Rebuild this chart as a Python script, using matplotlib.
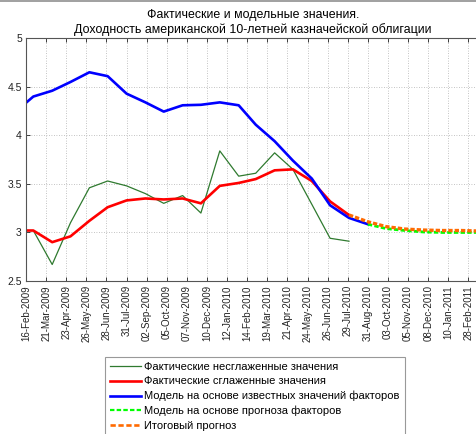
import numpy as np
import matplotlib
matplotlib.use("Agg")
import matplotlib.pyplot as plt
from matplotlib.lines import Line2D

plt.rcParams['font.family'] = ['Liberation Sans', 'DejaVu Sans']

# ---- data ----
month_dates = ['2009-01-31', '2009-02-28', '2009-03-31', '2009-04-30', '2009-05-31', '2009-06-30',
               '2009-07-31', '2009-08-31', '2009-09-30', '2009-10-31', '2009-11-30', '2009-12-31',
               '2010-01-31', '2010-02-28', '2010-03-31', '2010-04-30', '2010-05-31', '2010-06-30',
               '2010-07-31']
actual_raw = [3.02, 3.02, 2.67, 3.10, 3.46, 3.53, 3.48, 3.40, 3.30, 3.38, 3.20, 3.84,
              3.58, 3.61, 3.82, 3.65, 3.29, 2.94, 2.91]
actual_smooth = [3.02, 3.02, 2.90, 2.96, 3.12, 3.26, 3.33, 3.35, 3.34, 3.35, 3.30, 3.48,
                 3.51, 3.55, 3.64, 3.65, 3.53, 3.32, 3.18]

model_dates = month_dates + ['2010-08-31']
model_known = [4.25, 4.40, 4.46, 4.55, 4.65, 4.61, 4.43, 4.34, 4.245, 4.31, 4.315, 4.34,
               4.31, 4.11, 3.94, 3.74, 3.555, 3.28, 3.15, 3.085]

fc_model_dates = ['2010-08-31', '2010-09-30', '2010-10-31', '2010-11-30', '2010-12-31',
                  '2011-01-31', '2011-02-28', '2011-03-31']
fc_model = [3.085, 3.04, 3.02, 3.005, 3.0, 3.0, 3.0, 3.0]

final_dates = ['2010-07-31', '2010-08-31', '2010-09-30', '2010-10-31', '2010-11-30',
               '2010-12-31', '2011-01-31', '2011-02-28', '2011-03-31']
final_fc = [3.18, 3.11, 3.06, 3.035, 3.025, 3.02, 3.02, 3.015, 3.015]

tick_labels = ['16-Feb-2009', '21-Mar-2009', '23-Apr-2009', '26-May-2009', '28-Jun-2009',
               '31-Jul-2009', '02-Sep-2009', '05-Oct-2009', '07-Nov-2009', '10-Dec-2009',
               '12-Jan-2010', '14-Feb-2010', '19-Mar-2010', '21-Apr-2010', '24-May-2010',
               '26-Jun-2010', '29-Jul-2010', '31-Aug-2010', '03-Oct-2010', '05-Nov-2010',
               '08-Dec-2010', '10-Jan-2011', '28-Feb-2011']

legend_labels = ['Фактические несглаженные значения', 'Фактические сглаженные значения',
                 'Модель на основе известных значений факторов',
                 'Модель на основе прогноза факторов', 'Итоговый прогноз']

title = 'Фактические и модельные значения.\nДоходность американской 10-летней казначейской облигации'

# ---- figure ----
W, H = 476, 434
fig = plt.figure(figsize=(W / 100, H / 100), dpi=100)
x0 = np.datetime64('2009-02-16')
x1 = np.datetime64('2011-03-03')
left_px, right_px, top_px, bot_px = 26, 480, 38.3, 281
ax = fig.add_axes([left_px / W, 1 - bot_px / H, (right_px - left_px) / W, (bot_px - top_px) / H])

def d(lst):
    return np.array(lst, dtype='datetime64[D]')

ax.plot(d(month_dates), actual_raw, color='#2f7a2f', lw=0.9)
ax.plot(d(month_dates), actual_smooth, color='#ff0000', lw=1.9)
ax.plot(d(model_dates), model_known, color='#0000ff', lw=1.9)
ax.plot(d(fc_model_dates), fc_model, color='#00ff00', lw=2.0, dashes=(1.6, 0.8))
ax.plot(d(final_dates), final_fc, color='#ff6a00', lw=2.4, dashes=(1.3, 0.6))

ax.set_xlim(x0, x1)
ax.set_ylim(2.5, 5)
ticks = [x0 + np.timedelta64(33 * k, 'D') for k in range(len(tick_labels))]
ax.set_xticks(ticks)
ax.set_xticklabels(tick_labels, rotation=90, fontsize=7)
ax.set_yticks([2.5, 3, 3.5, 4, 4.5, 5])
ax.set_yticklabels(['2.5', '3', '3.5', '4', '4.5', '5'], fontsize=7.5)
ax.tick_params(direction='in', length=3, width=0.6, top=True, right=True, pad=3, colors='#222222')
ax.grid(True, color='#b0b0b0', linestyle=(0, (1, 2)), lw=0.6)
for s in ax.spines.values():
    s.set_color('#555555')
    s.set_linewidth(0.8)

ax.set_title(title, fontsize=8.9, pad=4, linespacing=1.15)

handles = [Line2D([], [], color='#2f7a2f', lw=0.9),
           Line2D([], [], color='#ff0000', lw=1.9),
           Line2D([], [], color='#0000ff', lw=1.9),
           Line2D([], [], color='#00ff00', lw=1.6, dashes=(2, 1)),
           Line2D([], [], color='#ff6a00', lw=1.9, dashes=(2, 1))]
leg = fig.legend(handles, legend_labels, loc='upper left',
                 bbox_to_anchor=(105 / W, 1 - 357 / H), fontsize=8,
                 frameon=True, fancybox=False, edgecolor='#808080',
                 handlelength=2.8, handletextpad=0.3, labelspacing=0.4,
                 borderpad=0.45, borderaxespad=0)
leg.get_frame().set_linewidth(0.8)

fig.add_artist(Line2D([0, 1], [1 - 1 / H, 1 - 1 / H], color='#909090', lw=1.2,
                      transform=fig.transFigure))

fig.savefig('out.png', dpi=100)
